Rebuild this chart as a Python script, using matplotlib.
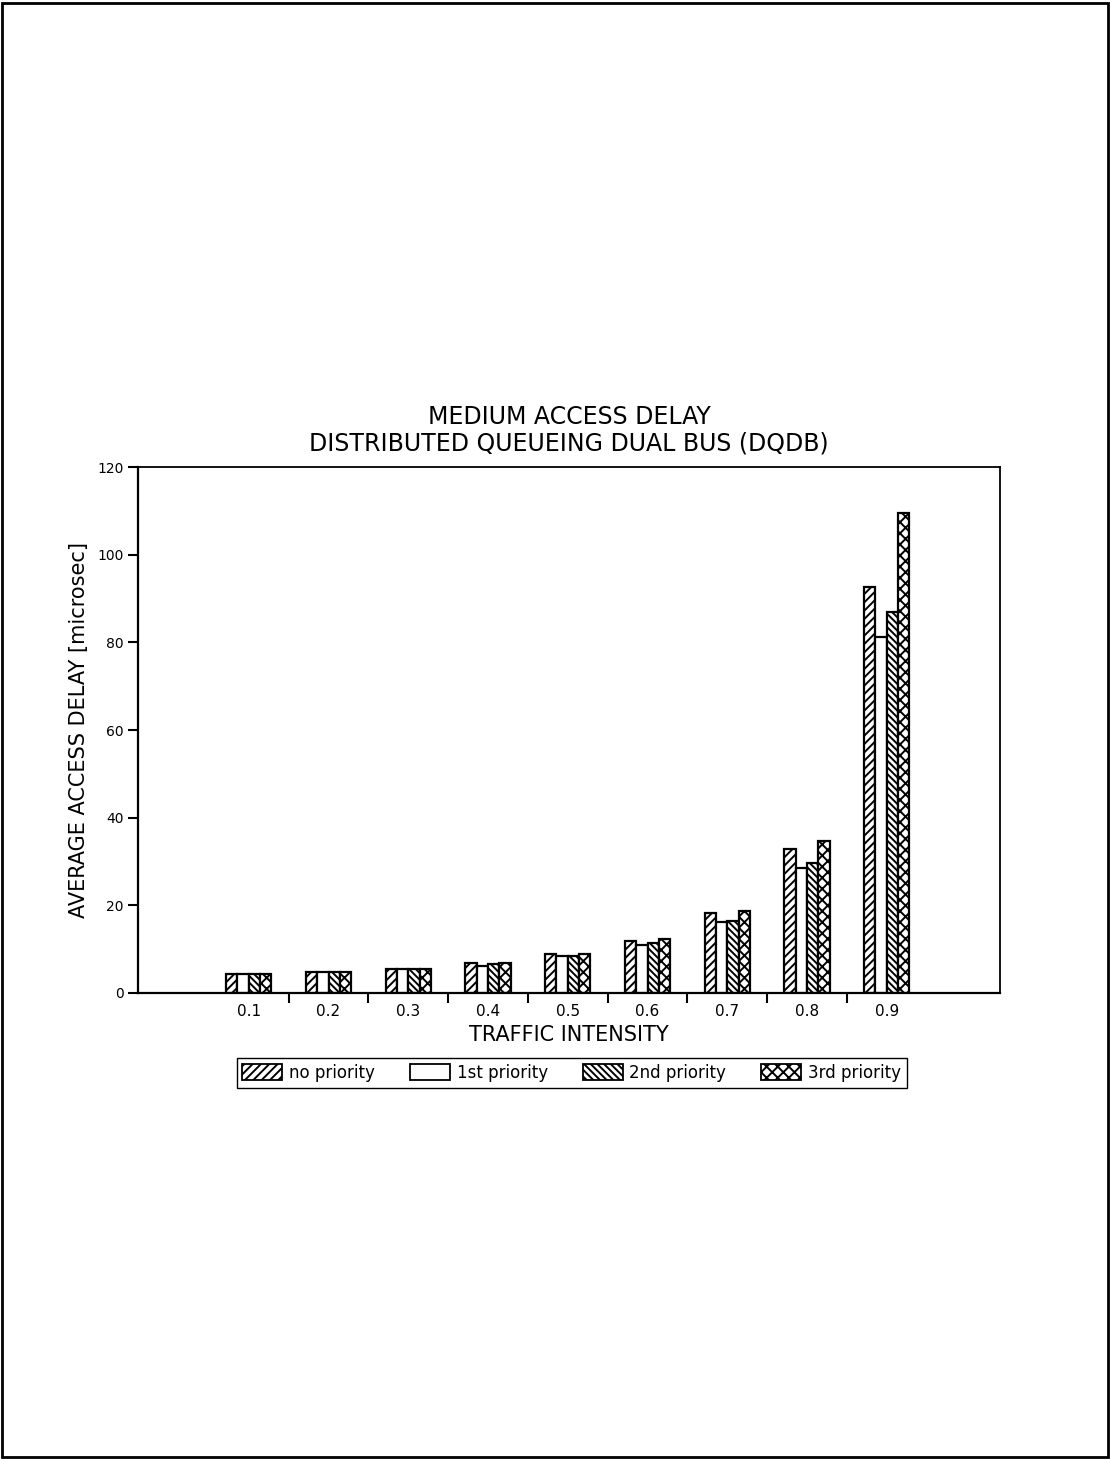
import matplotlib
matplotlib.use('Agg')
import matplotlib.pyplot as plt
import matplotlib.patches as mpatches
import numpy as np

# traffic intensity categories
intensity = ['0.1', '0.2', '0.3', '0.4', '0.5', '0.6', '0.7', '0.8', '0.9']

# average access delay [microsec]
no_priority = [4.3, 4.7, 5.5, 6.8, 8.9, 11.9, 18.2, 32.8, 92.7]
first_priority = [4.3, 4.7, 5.5, 6.2, 8.4, 10.9, 16.1, 28.6, 81.2]
second_priority = [4.3, 4.7, 5.5, 6.5, 8.4, 11.3, 16.5, 29.6, 86.9]
third_priority = [4.3, 4.7, 5.5, 6.8, 8.9, 12.2, 18.6, 34.7, 109.6]

series = [
    ('no priority', no_priority, '////'),
    ('1st priority', first_priority, ''),
    ('2nd priority', second_priority, '\\\\\\\\\\'),
    ('3rd priority', third_priority, 'xxx'),
]

plt.rcParams['hatch.linewidth'] = 1.4
plt.rcParams['font.family'] = ['DejaVu Sans']

fig = plt.figure(figsize=(11.1, 14.6), dpi=100)
ax = fig.add_axes([0.1243, 0.3199, 0.7766, 0.3602])

# page frame
fig.patches.append(mpatches.Rectangle((0.002, 0.002), 0.996, 0.996, transform=fig.transFigure,
                                      fill=False, edgecolor='black', linewidth=2))

x = np.arange(len(intensity))
width = 0.142
handles = []
for k, (label, vals, hatch) in enumerate(series):
    offset = (k - 1.5) * width
    ax.bar(x + offset, vals, width, color='white', edgecolor='black',
           hatch=hatch, linewidth=1.6)
    handles.append(mpatches.Patch(facecolor='white', edgecolor='black',
                                  hatch=hatch, linewidth=1.3, label=label))

ax.set_xlim(-1.39, 9.42)
ax.set_ylim(0, 120)
ax.set_yticks(np.arange(0, 121, 20))
ax.set_xticks(np.arange(0.5, 8, 1.0))
ax.set_xticklabels([])
ax.set_xticks(x, minor=True)
ax.set_xticklabels(intensity, minor=True)
ax.tick_params(axis='x', which='minor', length=0, pad=8, labelsize=11)
ax.tick_params(axis='x', which='major', direction='out', length=7, width=1.5)
ax.tick_params(axis='y', direction='out', length=7, width=1.5, labelsize=10)

for s in ax.spines.values():
    s.set_linewidth(1.3)
ax.spines['left'].set_linewidth(1.6)
ax.spines['bottom'].set_linewidth(1.6)

ax.set_title('MEDIUM ACCESS DELAY\nDISTRIBUTED QUEUEING DUAL BUS (DQDB)',
             fontsize=17, linespacing=1.1, pad=12)
ax.set_ylabel('AVERAGE ACCESS DELAY [microsec]', fontsize=15, labelpad=6)
ax.set_xlabel('TRAFFIC INTENSITY', fontsize=15, labelpad=4)

fig.legend(handles=handles, loc='upper center', bbox_to_anchor=(0.515, 0.281),
           ncol=4, frameon=True, fancybox=False, edgecolor='black', fontsize=12,
           handlelength=2.4, handleheight=1.1, columnspacing=2.1, handletextpad=0.4,
           borderpad=0.35, framealpha=1)

fig.savefig('out.png', dpi=100)
